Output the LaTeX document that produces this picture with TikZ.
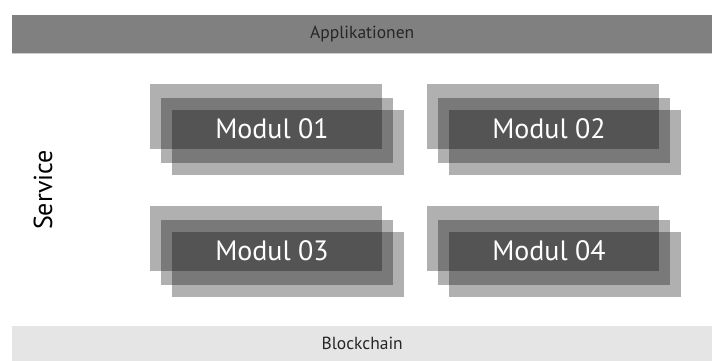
\documentclass[tikz,border=0pt]{standalone}
\usepackage{fontspec}
\setmainfont{PT Sans}
\usepackage{xcolor}
\usepackage{tikz}
\usetikzlibrary{
    positioning,
    fit
}

\begin{document}
\begin{tikzpicture}[
      x=1pt, y=-1pt,
      bar/.style={anchor=north west, inner sep=0pt, minimum width=700pt, text=black!85, font=\fontsize{17.5}{20}\selectfont},
      layer/.style={anchor=north west, inner sep=0pt, minimum width=232pt, minimum height=65pt, fill=black, fill opacity=0.31},
      modtext/.style={text=white, font=\fontsize{28}{32}\selectfont}
    ]
    \useasboundingbox (0,0) rectangle (712,361);

    % bars
    \node[bar, fill=black!50, minimum height=38pt] (app) at (12,15) {Applikationen};
    \draw[black!20, line width=1.5pt] (app.south west) -- (app.south east);
    \node[bar, fill=black!10, minimum height=35pt] (chain) at (12,326) {Blockchain};

    \node[rotate=90, font=\fontsize{26}{30}\selectfont] (service) at (43,190) {Service};

    % modules, three layers each
    \foreach \m/\x/\y in {1/150/84, 2/427/84, 3/150/206, 4/427/206} {
      \node[layer] (m\m a) at (\x,\y) {};
      \node[layer] (m\m b) at (\x+11,\y+14) {};
      \node[layer] (m\m c) at (\x+22,\y+26) {};
      \node[modtext] (m\m) at (\x+122,\y+45) {Modul 0\m};
    }
  \end{tikzpicture}
\end{document}
